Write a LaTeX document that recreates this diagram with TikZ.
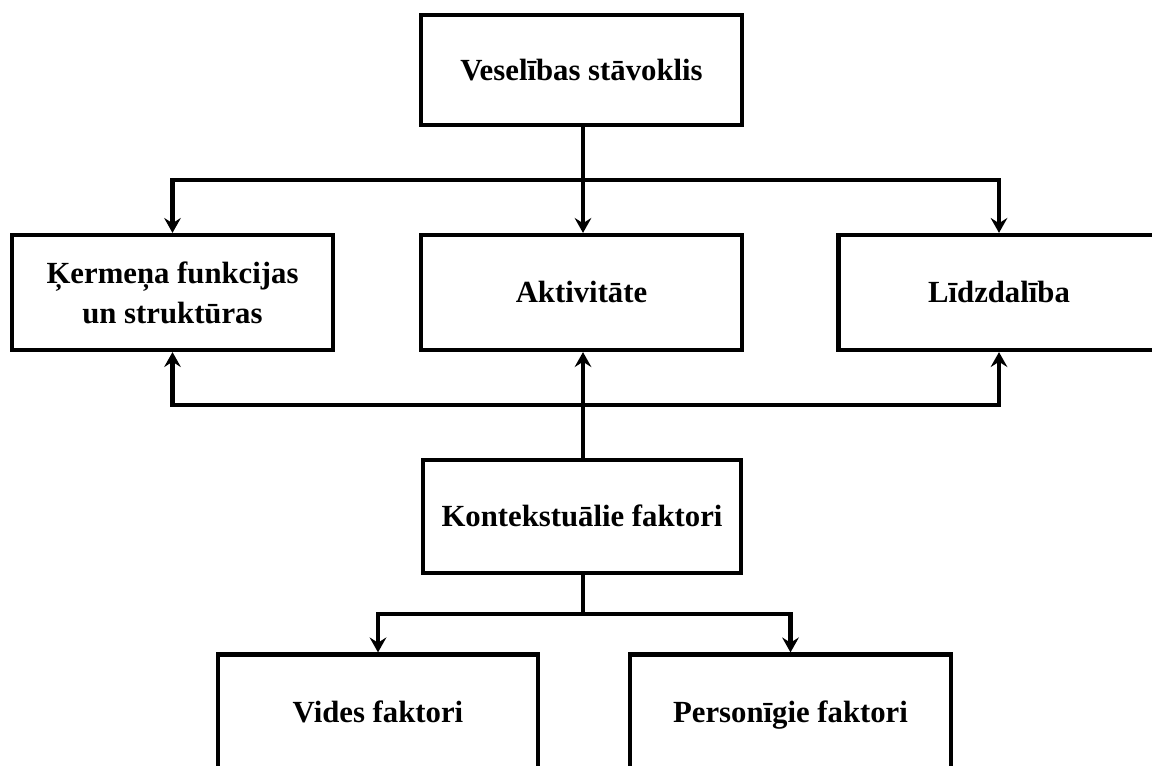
\documentclass[tikz,border=0pt]{standalone}
\usepackage{fontspec}
\setmainfont{Liberation Serif}
\usetikzlibrary{arrows.meta}

\tikzset{
  kaste/.style={draw, line width=2.4pt, minimum width=#1, minimum height=115*0.02cm,
    inner sep=0pt, align=center, font=\fontsize{17.5}{22.7}\selectfont\bfseries},
  kaste/.default={321*0.02cm},
  vienrinda/.style={text height=13pt, text depth=1.6pt},
  savienojums/.style={line width=2.8pt}
}

\begin{document}
\begin{tikzpicture}[>={Stealth[length=8.5pt,width=9.5pt,inset=3pt]}, x=0.02cm, y=-0.02cm]
  \clip (0,0) rectangle (1152,766);

  \node[kaste, vienrinda, minimum height=110*0.02cm] (veseliba) at (581.5,70) {Veselības stāvoklis};

  \node[kaste] (kermenis) at (172.5,292.5) {Ķermeņa funkcijas\\un struktūras};
  \node[kaste, vienrinda] (aktivitate) at (581.5,292.5) {Aktivitāte};
  \node[kaste, vienrinda] (lidzdaliba) at (999,292.5) {Līdzdalība};

  \node[kaste, vienrinda, minimum width=318*0.02cm, minimum height=113*0.02cm] (konteksts) at (582,516.5) {Kontekstuālie faktori};

  \node[kaste, vienrinda, minimum width=320*0.02cm] (vide) at (378,712) {Vides faktori};
  \node[kaste, vienrinda] (personiba) at (790.5,712) {Personīgie faktori};

  % augšējais sadalījums
  \coordinate (augsa) at (583,180);
  \draw[savienojums, ->] (veseliba.south -| augsa) -- (aktivitate.north -| augsa);
  \draw[savienojums, ->] (augsa) -| (kermenis.north);
  \draw[savienojums, ->] (augsa) -| (lidzdaliba.north);

  % kontekstuālo faktoru ietekme
  \coordinate (lejup) at (583,405);
  \draw[savienojums, ->] (konteksts.north -| lejup) -- (aktivitate.south -| lejup);
  \draw[savienojums, ->] (lejup) -| (kermenis.south);
  \draw[savienojums, ->] (lejup) -| (lidzdaliba.south);

  % apakšējais sadalījums
  \coordinate (zars) at (583,614);
  \draw[savienojums] (konteksts.south -| zars) -- (zars);
  \draw[savienojums, ->] (zars) -| (vide.north);
  \draw[savienojums, ->] (zars) -| (personiba.north);
\end{tikzpicture}
\end{document}
